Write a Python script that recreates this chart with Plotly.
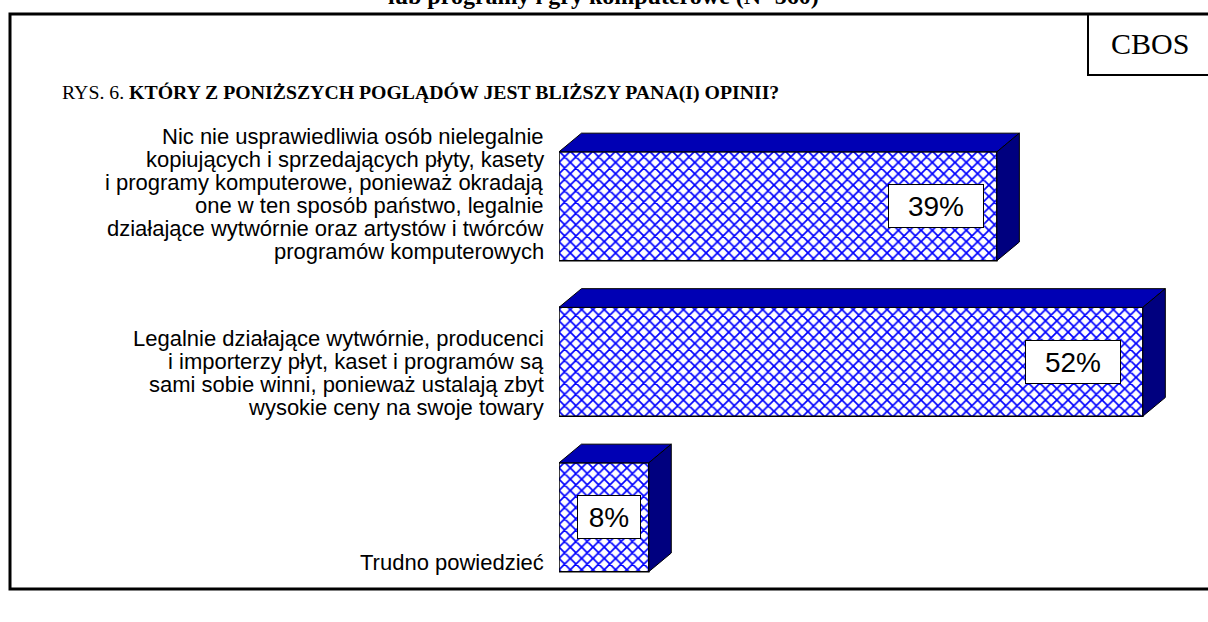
import plotly.graph_objects as go

# ---- data ----
categories = [
    "Nic nie usprawiedliwia osób nielegalnie<br>kopiujących i sprzedających płyty, kasety<br>i programy komputerowe, ponieważ okradają<br>one w ten sposób państwo, legalnie<br>działające wytwórnie oraz artystów i twórców<br>programów komputerowych",
    "Legalnie działające wytwórnie, producenci<br>i importerzy płyt, kaset i programów są<br>sami sobie winni, ponieważ ustalają zbyt<br>wysokie ceny na swoje towary",
    "Trudno powiedzieć",
]
values = [39, 52, 8]
value_labels = ["39%", "52%", "8%"]
title_top = "lub programy i gry komputerowe (N=560)"
title_main = "RYS. 6. <b>KTÓRY Z PONIŻSZYCH POGLĄDÓW JEST BLIŻSZY PANA(I) OPINII?</b>"
source = "CBOS"

# ---- geometry helpers (pixels -> paper) ----
W, H = 1208, 622
def px(x):
    return x / W
def py(y):
    return 1 - y / H

ARIAL = "Arial, Liberation Sans, sans-serif"
TIMES = "Times New Roman, Liberation Serif, serif"

pos = list(range(len(values)))
BW = 0.7            # bar thickness (category units)
DX, DY = 2.0, 0.12  # 3D depth offsets (data units)

fig = go.Figure()

fig.add_trace(go.Bar(
    x=values, y=pos, orientation="h", width=BW,
    marker=dict(
        color="white",
        line=dict(color="black", width=1.5),
        pattern=dict(shape="x", fgcolor="#0000FF", bgcolor="white",
                     size=8, solidity=0.38, fillmode="replace"),
    ),
    hoverinfo="skip", showlegend=False,
))

# 3D top & side faces derived from the values
for i, v in zip(pos, values):
    top = i - BW / 2
    bot = i + BW / 2
    fig.add_trace(go.Scatter(
        x=[0, v, v + DX, DX, 0], y=[top, top, top - DY, top - DY, top],
        mode="lines", fill="toself", fillcolor="#0000B4",
        line=dict(color="black", width=1), hoverinfo="skip", showlegend=False))
    fig.add_trace(go.Scatter(
        x=[v, v + DX, v + DX, v, v], y=[top, top - DY, bot - DY, bot, top],
        mode="lines", fill="toself", fillcolor="#00007F",
        line=dict(color="black", width=1), hoverinfo="skip", showlegend=False))

annotations = []
LINE = 23  # line spacing of the category labels, px
# category labels, one annotation per line, bottom-aligned to the bar
for i, c in zip(pos, categories):
    lines = c.split("<br>")
    n_l = len(lines)
    for k, ln in enumerate(lines):
        annotations.append(dict(
            xref="paper", x=px(545), yref="y", y=i + BW / 2,
            yshift=9 + (n_l - 1 - k) * LINE,
            xanchor="right", yanchor="middle", align="right", showarrow=False,
            borderpad=0,
            text=ln, font=dict(family=ARIAL, size=22, color="black")))
# value labels
for i, v, t in zip(pos, values, value_labels):
    annotations.append(dict(
        xref="x", x=v * 0.94 - 3.1, yref="y", y=i, xanchor="center", yanchor="middle",
        showarrow=False, text=t,
        font=dict(family=ARIAL, size=28, color="black"),
        bgcolor="white", bordercolor="black", borderwidth=1, borderpad=3,
        width=32 * len(t) - 8, height=36))
# titles
annotations.append(dict(
    xref="paper", yref="paper", x=px(603), y=py(11), xanchor="center", yanchor="bottom",
    showarrow=False, text="<b>" + title_top + "</b>",
    font=dict(family=TIMES, size=24, color="black")))
annotations.append(dict(
    xref="paper", yref="paper", x=px(60), y=py(93), xanchor="left", yanchor="middle",
    showarrow=False, text=title_main, font=dict(family=TIMES, size=19.8, color="black")))
annotations.append(dict(
    xref="paper", yref="paper", x=px(1150), y=py(44), xanchor="center", yanchor="middle",
    showarrow=False, text=source, font=dict(family=TIMES, size=30, color="black")))

shapes = [
    dict(type="rect", xref="paper", yref="paper", x0=px(10), x1=px(1220), y0=py(589), y1=py(14),
         line=dict(color="black", width=3), layer="below"),
    dict(type="rect", xref="paper", yref="paper", x0=px(1088), x1=px(1220), y0=py(75), y1=py(14),
         line=dict(color="black", width=2), layer="below"),
]

n = len(values)
fig.update_layout(
    width=W, height=H, margin=dict(l=0, r=0, t=0, b=0),
    paper_bgcolor="white", plot_bgcolor="rgba(0,0,0,0)",
    xaxis=dict(domain=[px(559), px(1199)], range=[0, 57], visible=False, fixedrange=True),
    yaxis=dict(domain=[py(595), py(128.5)], range=[n - 0.5, -0.5], visible=False, fixedrange=True),
    annotations=annotations, shapes=shapes, bargap=0.3,
)

fig.write_html("out.html", config={"displayModeBar": False},
               post_script="document.body.style.margin='0px';")
